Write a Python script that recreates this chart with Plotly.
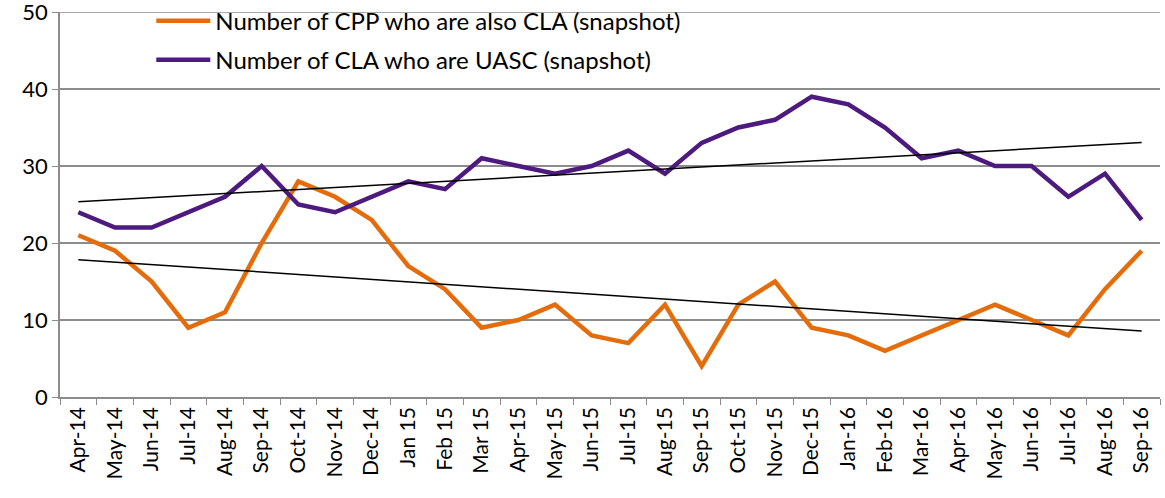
import numpy as np
import plotly.graph_objects as go

months = ["Apr-14", "May-14", "Jun-14", "Jul-14", "Aug-14", "Sep-14", "Oct-14", "Nov-14", "Dec-14",
          "Jan 15", "Feb 15", "Mar 15", "Apr-15", "May-15", "Jun-15", "Jul-15", "Aug-15", "Sep-15",
          "Oct-15", "Nov-15", "Dec-15", "Jan-16", "Feb-16", "Mar-16", "Apr-16", "May-16", "Jun-16",
          "Jul-16", "Aug-16", "Sep-16"]
cpp_cla = [21, 19, 15, 9, 11, 20, 28, 26, 23, 17, 14, 9, 10, 12, 8, 7, 12, 4, 12, 15, 9, 8, 6, 8,
           10, 12, 10, 8, 14, 19]
cla_uasc = [24, 22, 22, 24, 26, 30, 25, 24, 26, 28, 27, 31, 30, 29, 30, 32, 29, 33, 35, 36, 39, 38,
            35, 31, 32, 30, 30, 26, 29, 23]
series_names = ["Number of CPP who are also CLA (snapshot)", "Number of CLA who are UASC (snapshot)"]
y_ticks = [0, 10, 20, 30, 40, 50]

ORANGE = "#E46C0A"
PURPLE = "#4D1A7F"
GRID = "#8C8C8C"
FONT = "Lato"

idx = np.arange(len(months))

fig = go.Figure()
fig.add_trace(go.Scatter(x=months, y=cpp_cla, mode="lines", name=series_names[0], legendgroup="a",
                         line=dict(color=ORANGE, width=4.5)))
fig.add_trace(go.Scatter(x=months, y=cla_uasc, mode="lines", name=series_names[1], legendgroup="b",
                         line=dict(color=PURPLE, width=4.5)))

for vals in (cpp_cla, cla_uasc):
    m, b = np.polyfit(idx, vals, 1)
    trend = m * idx + b
    fig.add_trace(go.Scatter(x=months, y=trend, mode="lines", showlegend=False,
                             line=dict(color="black", width=1.5), hoverinfo="skip"))

# top gridline at the axis maximum
fig.add_shape(type="line", xref="paper", x0=0, x1=1, yref="y", y0=max(y_ticks), y1=max(y_ticks),
              line=dict(color=GRID, width=1.5), layer="below")

fig.update_layout(
    width=1165, height=498,
    margin=dict(l=60, r=5, t=12, b=101, autoexpand=False),
    paper_bgcolor="white", plot_bgcolor="white",
    font=dict(family=FONT, color="black"),
    legend=dict(x=0.083, y=1.035, xanchor="left", yanchor="top",
                bgcolor="rgba(255,255,255,0)",
                font=dict(size=24, family=FONT), itemwidth=54, tracegroupgap=5,
                traceorder="grouped"),
    showlegend=True,
)
fig.update_xaxes(type="category", range=[-0.5, len(months) - 0.5], tickangle=-90,
                 tickson="boundaries", ticks="outside", ticklen=6, tickcolor=GRID,
                 showline=True, linecolor=GRID, linewidth=1.5, showgrid=False, automargin=False,
                 tickfont=dict(size=21, family=FONT))
fig.update_yaxes(range=[0, 50], tickmode="array", tickvals=y_ticks, ticks="outside", ticklen=6,
                 tickcolor=GRID, showline=True, linecolor=GRID, linewidth=1.5, automargin=False,
                 showgrid=True, gridcolor=GRID, gridwidth=1.5, zeroline=False,
                 ticklabeloverflow="allow",
                 tickfont=dict(size=22, family=FONT))

fig.write_html("out.html", config={"displayModeBar": False},
               post_script="document.body.style.margin='0px';")
